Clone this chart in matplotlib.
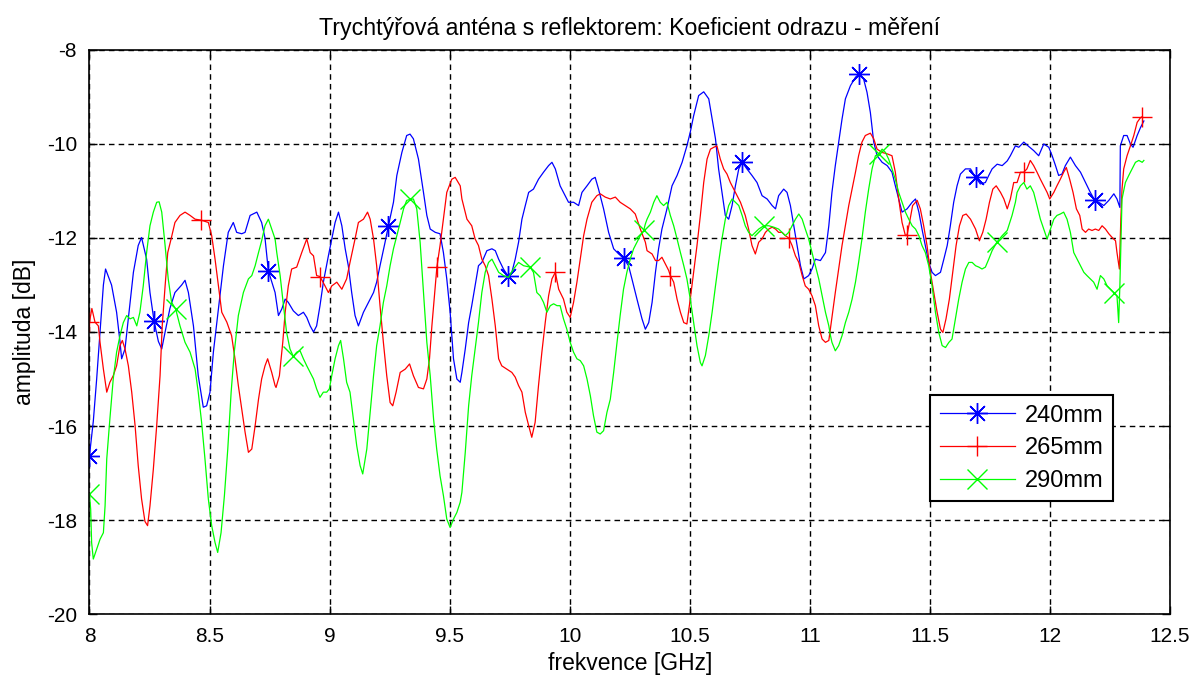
import numpy as np
import matplotlib
matplotlib.use("Agg")
import matplotlib.pyplot as plt

# 240 mm reflector distance
freq_240 = [8.000, 8.016, 8.030, 8.044, 8.058, 8.067, 8.092, 8.113, 8.127, 8.134, 8.148, 8.162, 8.183, 8.203, 8.217,
            8.238, 8.252, 8.269, 8.287, 8.301, 8.315, 8.335, 8.356, 8.384, 8.398, 8.412, 8.433, 8.453, 8.474, 8.488,
            8.502, 8.516, 8.537, 8.558, 8.578, 8.599, 8.613, 8.634, 8.648, 8.669, 8.697, 8.717, 8.731, 8.745,
            8.773, 8.787, 8.801, 8.815, 8.828, 8.849, 8.870, 8.891, 8.905, 8.919, 8.933, 8.946, 8.960, 8.974, 8.995,
            9.009, 9.023, 9.037, 9.051, 9.065, 9.078, 9.092, 9.106, 9.120, 9.141, 9.162, 9.183, 9.196, 9.210, 9.231,
            9.245, 9.266, 9.280, 9.301, 9.321, 9.335, 9.349, 9.370, 9.391, 9.405, 9.419, 9.440, 9.460, 9.474, 9.488,
            9.502, 9.516, 9.530, 9.544,
            9.551, 9.565, 9.579, 9.592, 9.606, 9.620, 9.634, 9.655, 9.676, 9.690, 9.704, 9.724, 9.742, 9.759, 9.773,
            9.787, 9.801, 9.815, 9.829, 9.849, 9.870, 9.891, 9.912, 9.926, 9.940, 9.960, 9.981, 9.995, 10.016, 10.037,
            10.051, 10.072, 10.092, 10.106, 10.120, 10.141, 10.162, 10.183, 10.204, 10.224, 10.245, 10.259, 10.280,
            10.301,
            10.315, 10.329, 10.343, 10.357, 10.370, 10.384, 10.405, 10.426, 10.447, 10.468, 10.488, 10.502, 10.516,
            10.537, 10.558, 10.579, 10.593, 10.607, 10.620, 10.634, 10.648, 10.662, 10.676, 10.690, 10.704, 10.718,
            10.738, 10.759, 10.780, 10.801, 10.822, 10.843, 10.857, 10.870, 10.891, 10.905, 10.919, 10.933, 10.947,
            10.961, 10.975, 10.995, 11.009, 11.023, 11.044, 11.065,
            11.079, 11.092, 11.106, 11.120, 11.134, 11.148, 11.169, 11.190, 11.203, 11.224, 11.238, 11.252, 11.266,
            11.280, 11.301, 11.322, 11.342, 11.356, 11.370, 11.384, 11.405, 11.426, 11.440, 11.454, 11.467, 11.481,
            11.495, 11.509, 11.523, 11.544, 11.558, 11.572, 11.585, 11.599, 11.613, 11.627, 11.648, 11.669, 11.690,
            11.710, 11.731, 11.745, 11.759, 11.780, 11.801, 11.822, 11.835, 11.856,
            11.870, 11.891, 11.911, 11.932, 11.953, 11.974, 11.995, 12.009, 12.023, 12.036, 12.050, 12.064, 12.085,
            12.106, 12.127, 12.148, 12.168, 12.186, 12.203, 12.224, 12.245, 12.266, 12.279, 12.291, 12.293, 12.307,
            12.321, 12.335, 12.346, 12.363, 12.377, 12.391]
amp_240 = [-16.63, -15.90, -15.00, -14.00, -13.00, -12.66, -13.00, -13.58, -14.20, -14.57, -14.36, -13.70, -12.73,
           -12.16, -11.99, -12.45, -13.16, -13.77, -14.20, -14.36, -14.00, -13.50, -13.16, -13.00, -12.90, -13.16,
           -13.87, -14.93, -15.60, -15.57, -15.28, -14.43, -13.50, -12.59, -11.88, -11.67, -11.88, -11.91, -11.88,
           -11.52, -11.45, -11.67, -12.00, -12.70,
           -13.16, -13.65, -13.51, -13.30, -13.37, -13.55, -13.65, -13.58, -13.69, -13.87, -14.00, -13.87, -13.44,
           -12.94, -12.38, -12.02, -11.67, -11.45, -11.74, -12.23, -12.59, -13.16, -13.65, -13.87, -13.58, -13.37,
           -13.16, -12.94, -12.59, -12.09, -11.74, -11.24, -10.67, -10.18, -9.82, -9.79, -9.89, -10.32, -11.03,
           -11.52, -11.81, -11.88, -11.91, -12.31, -12.87, -13.58, -14.57, -15.00, -15.07,
           -14.86, -14.36, -13.80, -13.44, -13.02, -12.59, -12.52, -12.27, -12.23, -12.27, -12.45, -12.66, -12.80,
           -12.73, -12.45, -12.09, -11.60, -11.31, -11.03, -10.96, -10.75, -10.60, -10.46, -10.39, -10.53, -10.89,
           -11.10, -11.24, -11.24, -11.31, -11.03, -10.89, -10.75, -10.71, -10.96, -11.38, -11.88, -12.23, -12.34,
           -12.43, -12.59, -12.87, -13.30, -13.72,
           -13.94, -13.80, -13.37, -12.73, -12.23, -11.81, -11.38, -10.89, -10.67, -10.39, -10.04, -9.75, -9.40,
           -8.97, -8.89, -9.04, -9.47, -9.89, -10.53, -11.03, -11.52, -11.60, -11.31, -10.89, -10.53, -10.39,
           -10.53, -10.67, -10.82, -11.10, -11.17, -11.31, -11.38, -11.10, -10.96, -11.03, -11.31, -11.74, -12.16,
           -12.59, -12.87, -12.80, -12.66, -12.45, -12.48, -12.31,
           -11.74, -11.03, -10.46, -9.96, -9.47, -9.04, -8.76, -8.58, -8.52, -8.62, -8.90, -9.33, -9.96,
           -10.25, -10.39, -10.46, -10.60, -10.89, -11.17, -11.45, -11.38, -11.24, -11.17, -11.45, -11.81, -12.16,
           -12.52, -12.73, -12.80, -12.73, -12.45, -12.16, -11.74, -11.24, -10.89, -10.64, -10.53, -10.53, -10.71,
           -10.85, -10.82, -10.67, -10.53, -10.43, -10.46, -10.36, -10.25, -10.04,
           -10.07, -9.96, -10.05, -10.14, -10.25, -10.00, -10.07, -10.25, -10.46, -10.67, -10.64, -10.46, -10.28,
           -10.46, -10.60, -10.82, -11.03, -11.19, -11.24, -11.31, -11.20, -11.06, -11.17, -11.35, -10.04, -9.82,
           -9.82, -10.00, -10.07, -9.82, -9.65, -9.51]
mark_240 = [8.000, 8.269, 8.745, 9.245, 9.742, 10.224, 10.718, 11.203, 11.690, 12.186]

# 265 mm reflector distance
freq_265 = [8.000, 8.010, 8.023, 8.037, 8.044, 8.058, 8.072, 8.085, 8.099, 8.113, 8.127, 8.137, 8.148, 8.162, 8.176,
            8.190, 8.203, 8.217, 8.231, 8.242, 8.252, 8.266, 8.280, 8.294, 8.303, 8.315, 8.326, 8.340, 8.356, 8.377,
            8.398, 8.419, 8.440, 8.465, 8.495, 8.509, 8.523, 8.537, 8.551, 8.572, 8.592, 8.606, 8.620, 8.634, 8.648,
            8.662, 8.676, 8.690, 8.704, 8.717, 8.731, 8.742, 8.759, 8.773,
            8.777, 8.791, 8.805, 8.815, 8.828, 8.842, 8.863, 8.884, 8.905, 8.919, 8.933, 8.946, 8.960, 8.981, 8.995,
            9.009, 9.030, 9.051, 9.071, 9.085, 9.106, 9.120, 9.141, 9.158, 9.169, 9.183, 9.196, 9.210, 9.224, 9.238,
            9.252, 9.263, 9.277, 9.294, 9.315, 9.333, 9.349, 9.370, 9.391, 9.405, 9.416, 9.426, 9.440, 9.447, 9.460,
            9.474, 9.488, 9.509, 9.523, 9.544,
            9.551, 9.572, 9.592, 9.606, 9.620, 9.634, 9.648, 9.662, 9.676, 9.690, 9.704, 9.717, 9.738, 9.759, 9.773,
            9.787, 9.801, 9.815, 9.829, 9.842, 9.856, 9.870, 9.884, 9.898, 9.912, 9.926, 9.940, 9.954, 9.974, 9.988,
            10.002, 10.016, 10.030, 10.044, 10.058, 10.072, 10.092, 10.113, 10.127, 10.148, 10.169, 10.190, 10.210,
            10.231, 10.252, 10.273, 10.294, 10.315,
            10.322, 10.343, 10.357, 10.370, 10.384, 10.398, 10.412, 10.419, 10.433, 10.447, 10.461, 10.475, 10.488,
            10.502, 10.516, 10.530, 10.544, 10.558, 10.572, 10.586, 10.600, 10.613, 10.627, 10.641, 10.655, 10.669,
            10.690, 10.711, 10.731, 10.745, 10.759, 10.773, 10.787, 10.801, 10.815, 10.829, 10.843, 10.857, 10.870,
            10.884, 10.898, 10.912, 10.926, 10.940, 10.954, 10.968, 10.981, 10.995, 11.009, 11.023, 11.037, 11.051,
            11.065,
            11.079, 11.092, 11.106, 11.120, 11.134, 11.148, 11.162, 11.176, 11.190, 11.203, 11.217, 11.231, 11.252,
            11.266, 11.280, 11.301, 11.322, 11.342, 11.356, 11.370, 11.384, 11.398, 11.405, 11.415, 11.428, 11.447,
            11.460, 11.474, 11.488, 11.502, 11.516, 11.530, 11.544, 11.554, 11.567, 11.581, 11.595, 11.609, 11.623,
            11.637, 11.651, 11.669, 11.690, 11.706, 11.720, 11.734, 11.748, 11.762, 11.776, 11.794, 11.808, 11.822,
            11.835, 11.849,
            11.863, 11.877, 11.891, 11.904, 11.918, 11.932, 11.946, 11.960, 11.974, 11.988, 11.999, 12.016, 12.029,
            12.043, 12.057, 12.068, 12.082, 12.096, 12.110, 12.124, 12.134, 12.148, 12.161, 12.175, 12.189, 12.203,
            12.217, 12.231, 12.245, 12.259, 12.273, 12.279, 12.289, 12.295, 12.300, 12.307, 12.321, 12.335, 12.349,
            12.363, 12.377, 12.384]
amp_265 = [-13.79, -13.50, -13.79, -13.87, -14.22, -14.79, -15.28, -15.07, -14.93, -14.72, -14.29, -14.18, -14.36,
           -14.72, -15.28, -15.99, -16.84, -17.55, -18.03, -18.12, -17.70, -16.92, -15.99, -14.93, -13.87, -13.02,
           -12.31, -12.02, -11.67, -11.52, -11.45, -11.52, -11.60, -11.62, -11.67, -11.95, -12.45, -13.02, -13.58,
           -13.79, -14.08, -14.57, -15.14, -15.64, -16.13, -16.56, -16.49, -15.99, -15.43, -15.00, -14.72, -14.57,
           -14.86, -15.14,
           -15.18, -14.93, -14.22, -13.58, -13.02, -12.66, -12.62, -12.31, -12.02, -12.31, -12.38, -12.80, -12.82,
           -13.02, -13.16, -13.02, -12.94, -13.09, -12.87, -12.52, -12.02, -11.67, -11.60, -11.45, -11.60, -12.02,
           -12.59, -13.44, -14.22, -14.93, -15.50, -15.57, -15.28, -14.86, -14.79, -14.68, -14.93, -15.18, -15.21,
           -15.00, -14.57, -13.87, -13.02, -12.61, -12.16, -11.60, -11.03, -10.75, -10.71, -10.89,
           -11.17, -11.60, -11.74, -12.02, -12.16, -12.45, -12.59, -12.80, -13.30, -13.87, -14.57, -14.72, -14.79,
           -14.86, -14.96, -15.14, -15.28, -15.71, -15.99, -16.24, -15.92, -15.14, -14.43, -13.80, -13.23, -12.87,
           -12.73, -13.09, -13.30, -13.58, -13.69, -13.37, -12.94, -12.45, -11.95, -11.60, -11.24, -11.10, -11.06,
           -11.13, -11.17, -11.13, -11.24, -11.31, -11.38, -11.49, -11.81, -12.09,
           -12.27, -12.34, -12.48, -12.48, -12.41, -12.55, -12.69, -12.80, -12.94, -13.30, -13.58, -13.80, -13.83,
           -13.30, -12.73, -12.16, -11.52, -10.82, -10.32, -10.11, -10.07, -10.04, -10.32, -10.53, -10.64, -10.82,
           -11.03, -11.24, -11.52, -11.81, -12.16, -12.34, -12.09, -12.02, -11.88, -11.81, -11.77, -11.81, -11.88,
           -11.88, -11.95, -12.00, -12.16, -12.38, -12.52, -12.80, -13.02, -13.09, -13.23, -13.44, -13.87, -14.15,
           -14.22,
           -14.18, -13.69, -13.16, -12.66, -12.16, -11.74, -11.31, -10.96, -10.60, -10.25, -9.96, -9.82, -9.77,
           -9.89, -10.11, -10.18, -10.21, -10.25, -10.60, -11.17, -11.67, -11.95, -11.93, -11.67, -11.31, -11.20,
           -11.38, -11.74, -12.16, -12.73, -13.16, -13.58, -13.94, -14.01, -13.72, -13.30, -12.73, -12.16, -11.74,
           -11.52, -11.49, -11.60, -11.81, -12.06, -11.88, -11.60, -11.24, -10.96, -10.89, -11.03, -11.17, -11.38,
           -11.17, -10.82,
           -10.82, -10.60, -10.60, -10.53, -10.35, -10.46, -10.60, -10.75, -10.89, -11.03, -11.17, -11.03, -10.89,
           -10.75, -10.60, -10.50, -10.75, -11.03, -11.38, -11.52, -11.81, -11.88, -11.81, -11.84, -11.81, -11.84,
           -11.74, -11.81, -11.91, -11.99, -12.06, -12.31, -12.66, -11.60, -10.96, -10.53, -10.25, -10.04, -9.82,
           -9.54, -9.44, -9.42]
mark_265 = [8.000, 8.465, 8.960, 9.447, 9.940, 10.419, 10.912, 11.405, 11.891, 12.384]

# 290 mm reflector distance
freq_290 = [8.000, 8.005, 8.009, 8.016, 8.030, 8.044, 8.058, 8.065, 8.072, 8.085, 8.099, 8.113, 8.127, 8.141, 8.155,
            8.169, 8.183, 8.197, 8.210, 8.224, 8.238, 8.252, 8.266, 8.280, 8.290, 8.301, 8.315, 8.328, 8.342, 8.359,
            8.377, 8.398, 8.419, 8.440, 8.453, 8.467, 8.481, 8.495, 8.509, 8.523, 8.534, 8.548, 8.562, 8.576, 8.590,
            8.603, 8.620, 8.641, 8.662, 8.676, 8.690, 8.704, 8.717, 8.731, 8.745, 8.759, 8.773,
            8.780, 8.794, 8.808, 8.821, 8.835, 8.849, 8.863, 8.877, 8.891, 8.905, 8.919, 8.933, 8.946, 8.960, 8.974,
            8.988, 8.999, 9.009, 9.023, 9.037, 9.046, 9.058, 9.071, 9.085, 9.099, 9.113, 9.127, 9.138, 9.155, 9.169,
            9.183, 9.196, 9.210, 9.224, 9.238, 9.252, 9.266, 9.280, 9.294, 9.308, 9.321, 9.335, 9.349, 9.363, 9.377,
            9.391, 9.405, 9.419, 9.433, 9.446, 9.460, 9.474, 9.488, 9.502, 9.516, 9.530, 9.544,
            9.551, 9.565, 9.579, 9.592, 9.606, 9.620, 9.634, 9.648, 9.662, 9.676, 9.690, 9.704, 9.724, 9.745, 9.766,
            9.787, 9.808, 9.835, 9.849, 9.863, 9.877, 9.891, 9.905, 9.919, 9.933, 9.947, 9.960, 9.974, 9.988, 10.002,
            10.016, 10.030, 10.044, 10.058, 10.072, 10.086, 10.099, 10.113, 10.127, 10.141, 10.155, 10.169, 10.183,
            10.197, 10.210, 10.224, 10.238, 10.252, 10.266, 10.280, 10.294, 10.308, 10.315,
            10.322, 10.336, 10.350, 10.363, 10.377, 10.391, 10.405, 10.419, 10.433, 10.447, 10.461, 10.475, 10.488,
            10.502, 10.516, 10.530, 10.544, 10.551, 10.565, 10.579, 10.593, 10.607, 10.620, 10.634, 10.648, 10.662,
            10.676, 10.690, 10.704, 10.718, 10.731, 10.745, 10.759, 10.773, 10.787, 10.808, 10.829, 10.850, 10.870,
            10.884, 10.898, 10.912, 10.926, 10.940, 10.954, 10.968, 10.981, 10.995, 11.009, 11.023, 11.037, 11.051,
            11.065, 11.079, 11.086,
            11.092, 11.106, 11.120, 11.134, 11.148, 11.162, 11.176, 11.190, 11.203, 11.217, 11.231, 11.245, 11.259,
            11.273, 11.287, 11.301, 11.315, 11.328, 11.342, 11.356, 11.370, 11.384, 11.398, 11.412, 11.426, 11.440,
            11.454, 11.467, 11.481, 11.495, 11.509, 11.523, 11.537, 11.551, 11.565, 11.579, 11.592, 11.606, 11.620,
            11.634, 11.648, 11.662, 11.676, 11.690, 11.704, 11.717, 11.731, 11.745, 11.759, 11.780, 11.801, 11.822,
            11.842, 11.856,
            11.863, 11.877, 11.891, 11.904, 11.918, 11.932, 11.946, 11.960, 11.974, 11.988, 12.002, 12.016, 12.029,
            12.043, 12.057, 12.071, 12.085, 12.099, 12.113, 12.127, 12.141, 12.154, 12.168, 12.182, 12.196, 12.210,
            12.224, 12.238, 12.252, 12.266, 12.279, 12.286, 12.291, 12.296, 12.300, 12.314, 12.328, 12.342, 12.356,
            12.370, 12.384, 12.391]
amp_290 = [-17.45, -17.77, -18.48, -18.83, -18.62, -18.41, -18.27, -17.70, -16.70, -15.85, -15.00, -14.43, -14.08,
           -13.80, -13.65, -13.72, -13.69, -13.87, -13.58, -13.02, -12.31, -11.74, -11.45, -11.24, -11.23, -11.45,
           -12.16, -12.87, -13.37, -13.51, -13.87, -14.22, -14.43, -14.79, -15.28, -15.92, -16.70, -17.55, -18.12,
           -18.48, -18.69, -18.27, -17.48, -16.49, -15.28, -14.43, -13.65, -13.16, -12.87, -12.80, -12.59, -12.31,
           -12.06, -11.74, -11.60, -11.81, -12.02,
           -12.31, -12.80, -13.44, -14.01, -14.36, -14.52, -14.43, -14.40, -14.57, -14.72, -14.86, -15.00, -15.21,
           -15.39, -15.28, -15.28, -15.21, -14.93, -14.57, -14.29, -14.18, -14.57, -15.07, -15.28, -15.85, -16.42,
           -16.84, -17.02, -16.49, -15.71, -14.93, -14.29, -13.87, -13.37, -13.02, -12.59, -12.23, -11.95, -11.67,
           -11.38, -11.20, -11.18, -11.17, -11.38, -12.09, -13.16, -14.22, -14.93, -15.85, -16.49, -17.06, -17.48,
           -17.98, -18.16, -17.98, -17.84, -17.62,
           -17.41, -16.56, -15.57, -14.93, -14.36, -13.80, -13.16, -12.73, -12.52, -12.45, -12.59, -12.73, -12.80,
           -12.84, -12.66, -12.52, -12.59, -12.62, -12.73, -13.16, -13.23, -13.37, -13.58, -13.44, -13.40, -13.44,
           -13.44, -13.72, -13.94, -14.22, -14.43, -14.57, -14.61, -14.72, -15.00, -15.36, -15.78, -16.13, -16.17,
           -16.10, -15.71, -15.43, -14.86, -14.22, -13.65, -13.09, -12.73, -12.45, -12.23, -12.09, -11.95, -11.84,
           -11.70,
           -11.60, -11.45, -11.24, -11.10, -11.24, -11.31, -11.24, -11.52, -11.74, -12.02, -12.31, -12.59, -12.87,
           -13.30, -13.80, -14.29, -14.65, -14.72, -14.50, -14.08, -13.58, -13.02, -12.52, -12.02, -11.60, -11.31,
           -11.17, -11.24, -11.31, -11.52, -11.74, -11.88, -11.95, -11.88, -11.81, -11.74, -11.74, -11.77, -11.81,
           -11.88, -11.95, -11.88, -11.74, -11.60, -11.49, -11.60, -11.81, -12.02, -12.31, -12.59, -12.87, -13.23,
           -13.58, -13.87, -14.08,
           -14.22, -14.40, -14.29, -14.08, -13.80, -13.58, -13.30, -12.94, -12.52, -12.02, -11.45, -10.96, -10.53,
           -10.25, -10.21, -10.11, -10.18, -10.32, -10.53, -10.75, -11.03, -11.24, -11.45, -11.60, -11.74, -11.81,
           -11.95, -12.16, -12.31, -12.59, -13.02, -13.58, -14.01, -14.29, -14.33, -14.22, -14.15, -13.72, -13.30,
           -12.94, -12.66, -12.52, -12.52, -12.59, -12.62, -12.66, -12.62, -12.45, -12.27, -12.08, -11.95, -11.84,
           -11.52, -11.24,
           -11.03, -10.89, -10.82, -10.96, -10.89, -11.03, -11.31, -11.60, -11.81, -12.02, -11.81, -11.60, -11.52,
           -11.49, -11.45, -11.60, -11.88, -12.31, -12.45, -12.59, -12.73, -12.80, -12.87, -12.94, -13.09, -12.80,
           -12.87, -13.02, -13.09, -13.16, -13.23, -13.80, -13.02, -12.02, -11.17, -10.82, -10.67, -10.53, -10.39,
           -10.35, -10.39, -10.35]
mark_290 = [8.000, 8.359, 8.849, 9.335, 9.835, 10.308, 10.808, 11.287, 11.780, 12.266]

series = [
    ("240mm", freq_240, amp_240, mark_240, "#0000ff", (8, 2, 0)),
    ("265mm", freq_265, amp_265, mark_265, "#ff0000", "+"),
    ("290mm", freq_290, amp_290, mark_290, "#00ff00", "x"),
]

plt.rcParams["font.family"] = ["Liberation Sans", "DejaVu Sans"]
plt.rcParams["font.size"] = 15
plt.rcParams["axes.unicode_minus"] = False

fig = plt.figure(figsize=(11.96, 6.79), dpi=100)
ax = fig.add_axes([0.0748, 0.0957, 0.9035, 0.8307])

for name, f, a, marks, col, mk in series:
    f = np.array(f)
    idx = [int(np.argmin(np.abs(f - m))) for m in marks]
    ax.plot(f, a, color=col, lw=0.9, marker=mk, markevery=idx,
            markersize=15, markeredgewidth=1.0, label=name)

ax.set_xlim(8, 12.5)
ax.set_ylim(-20, -8)
xt = np.arange(8, 12.51, 0.5)
ax.set_xticks(xt)
ax.set_xticklabels(["%g" % v for v in xt])
ax.set_yticks(np.arange(-20, -7.9, 2))
ax.tick_params(direction="in", top=True, right=True, length=6, width=1, pad=9)
ax.grid(True, color="black", linestyle=(0, (4, 3)), linewidth=1.0)
for s in ax.spines.values():
    s.set_linewidth(1.2)

ax.set_title("Trychtýřová anténa s reflektorem: Koeficient odrazu - měření", fontsize=16.7, pad=11)
ax.set_xlabel("frekvence [GHz]", fontsize=16.5, labelpad=5)
ax.set_ylabel("amplituda [dB]", fontsize=16.5, labelpad=8)

leg = ax.legend(loc="upper left", bbox_to_anchor=(0.778, 0.388), borderaxespad=0,
                fancybox=False, edgecolor="black", framealpha=1, fontsize=17,
                handlelength=3.2, handletextpad=0.4, labelspacing=0.45, borderpad=0.4)
leg.get_frame().set_linewidth(1.5)

fig.savefig("out.png", dpi=100)
